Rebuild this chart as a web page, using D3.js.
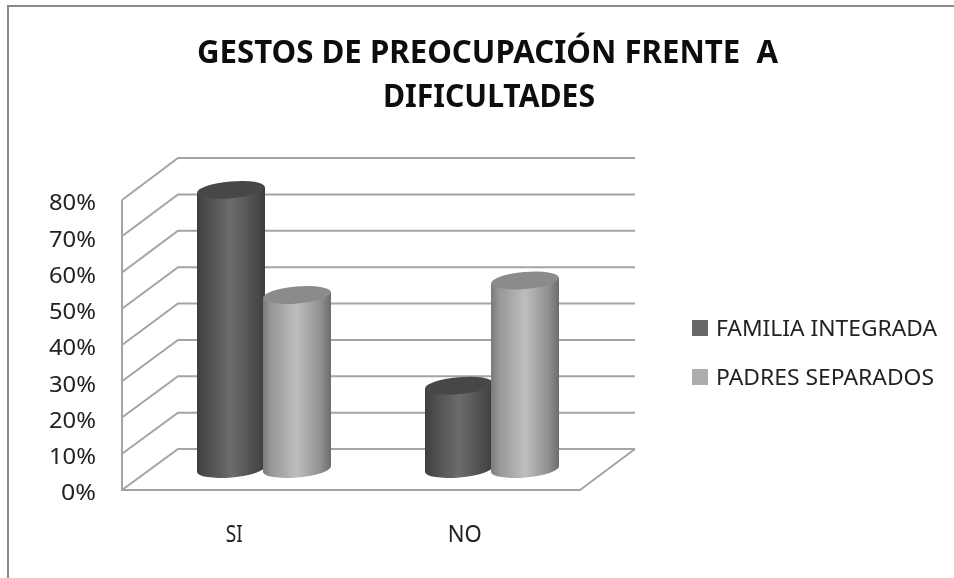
<!DOCTYPE html>
<html><head><meta charset="utf-8">
<script src="https://cdn.jsdelivr.net/npm/d3@7"></script>
<style>html,body{margin:0;padding:0;background:#fff}svg{display:block}text{font-family:"Noto Sans","Open Sans",sans-serif;fill:#111}</style>
</head><body><svg id="c" width="954" height="578"></svg>
<script>
const categories = ["SI","NO"];
const seriesNames = ["FAMILIA INTEGRADA","PADRES SEPARADOS"];
const familiaIntegrada = [0.77,0.23];
const padresSeparados = [0.48,0.52];
const tickValues = [0,0.1,0.2,0.3,0.4,0.5,0.6,0.7,0.8];
const titleLines = ["GESTOS DE PREOCUPACIÓN FRENTE  A","DIFICULTADES"];
const seriesValues = [familiaIntegrada,padresSeparados];

const svg = d3.select("#c");
const defs = svg.append("defs");
const gradStops = [
  [[0,"#3e3e3e"],[.12,"#4c4c4c"],[.5,"#6c6c6c"],[.88,"#4a4a4a"],[1,"#3c3c3c"]],
  [[0,"#7a7a7a"],[.12,"#979797"],[.5,"#bebebe"],[.85,"#8f8f8f"],[1,"#6c6c6c"]]
];
gradStops.forEach((st,i)=>{
  const g = defs.append("linearGradient").attr("id","g"+i);
  st.forEach(s=>g.append("stop").attr("offset",s[0]).attr("stop-color",s[1]));
});
defs.append("filter").attr("id","soft").append("feGaussianBlur").attr("stdDeviation",0.45);

const root = svg.append("g").attr("filter","url(#soft)");
// frame
root.append("path").attr("d","M8,578V6H954").attr("fill","none").attr("stroke","#8a8a8a").attr("stroke-width",2);

// scales
const yFront = d3.scaleLinear().domain([0,0.8]).range([490,200]);
const yBack = d3.scaleLinear().domain([0,0.8]).range([449,158]);
const yBar = d3.scaleLinear().domain([0,0.8]).range([469,179]);
const xCat = d3.scaleBand().domain(categories).range([119,580]);
const xBar = d3.scaleBand().domain(categories).range([150,606]);
const xSer = d3.scaleBand().domain([0,1]).range([-66,66]);
const X0=122, X1=178, X2=635, X3=580, GRID="#a4a4a4";

// gridlines and walls
root.append("g").selectAll("path").data(tickValues).join("path")
  .attr("fill","none").attr("stroke",GRID).attr("stroke-width",2)
  .attr("d",v=>`M${X0},${yFront(v)}L${X1},${yBack(v)}L${X2},${yBack(v)}`);
root.append("path").attr("fill","none").attr("stroke",GRID).attr("stroke-width",2)
  .attr("d",`M${X0},${yFront(0.8)}V${yFront(0)}H${X3}L${X2},${yBack(0)}`);

// cylinders
const rx=34, ry=8.5, tilt=-5, dy=rx*Math.sin(-tilt*Math.PI/180);
const topColors=["#474747","#8b8b8b"];
const marks=[];
categories.forEach((cat,ci)=>seriesValues.forEach((vals,si)=>marks.push({cat,si,v:vals[ci]})));
const cx = d=>xBar(d.cat)+xBar.bandwidth()/2+xSer(d.si)+xSer.bandwidth()/2;
const cyl = root.append("g").selectAll("g").data(marks).join("g");
cyl.append("path").attr("fill",d=>`url(#g${d.si})`)
  .attr("d",d=>{
    const x=cx(d), t=yBar(d.v), b=yBar(0);
    return `M${x-rx},${t+dy}L${x+rx},${t-dy}L${x+rx},${b-dy}A${rx},${ry} ${tilt} 0 1 ${x-rx},${b+dy}Z`;
  });
cyl.append("ellipse").attr("fill",d=>topColors[d.si])
  .attr("rx",rx).attr("ry",ry)
  .attr("transform",d=>`translate(${cx(d)},${yBar(d.v)}) rotate(${tilt})`);

// y axis labels
const axis = root.append("g").attr("transform","translate(96,2)")
  .call(d3.axisLeft(yFront).tickValues(tickValues).tickSize(0).tickPadding(0).tickFormat(d3.format(".0%")));
axis.select(".domain").remove();
axis.selectAll("text").style("font-size","22px").style("fill","#222")
  .attr("font-family",null).attr("dy","0.36em").attr("textLength",47).attr("lengthAdjust","spacingAndGlyphs");
axis.selectAll("text").filter(d=>d===0).attr("textLength",35);

// x labels
const xLabelW=[17,34];
root.append("g").selectAll("text").data(categories).join("text")
  .attr("x",d=>xCat(d)+xCat.bandwidth()/2).attr("y",542)
  .attr("text-anchor","middle").style("font-size","24px").style("fill","#222")
  .attr("textLength",(d,i)=>xLabelW[i]).attr("lengthAdjust","spacingAndGlyphs").text(d=>d);

// title
const titleWidths=[581,212], titleX=[487.5,489], titleY=[62.5,107];
root.append("g").selectAll("text").data(titleLines).join("text")
  .attr("x",(d,i)=>titleX[i]).attr("y",(d,i)=>titleY[i])
  .attr("text-anchor","middle").style("font-size","32px").style("font-weight","700").style("white-space","pre")
  .attr("textLength",(d,i)=>titleWidths[i]).attr("lengthAdjust","spacingAndGlyphs").text(d=>d);

// legend
const legendColors=["#666666","#adadad"], legendW=[221,218];
const leg=root.append("g").selectAll("g").data(seriesNames).join("g")
  .attr("transform",(d,i)=>`translate(692,${320+i*49})`);
leg.append("rect").attr("width",16).attr("height",16).attr("fill",(d,i)=>legendColors[i]);
leg.append("text").attr("x",24).attr("y",15.5).style("font-size","22px").style("fill","#222")
  .attr("textLength",(d,i)=>legendW[i]).attr("lengthAdjust","spacingAndGlyphs").text(d=>d);
</script></body></html>
